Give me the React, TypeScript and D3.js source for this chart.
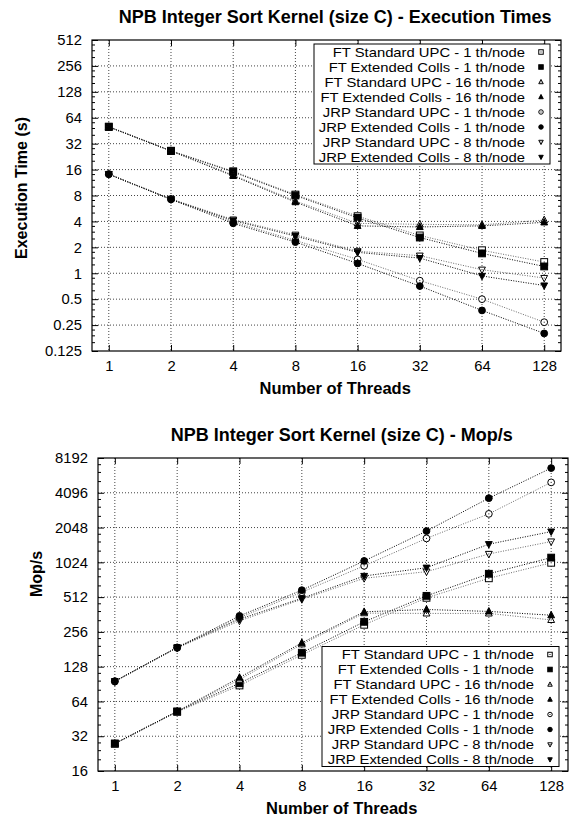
import { useEffect, useRef } from "react";
import * as d3 from "d3";

const threads = [1, 2, 4, 8, 16, 32, 64, 128];

const seriesNames = [
  "FT Standard UPC - 1 th/node",
  "FT Extended Colls - 1 th/node",
  "FT Standard UPC - 16 th/node",
  "FT Extended Colls - 16 th/node",
  "JRP Standard UPC - 1 th/node",
  "JRP Extended Colls - 1 th/node",
  "JRP Standard UPC - 8 th/node",
  "JRP Extended Colls - 8 th/node",
];
const markerKinds = ["sq", "sqF", "tri", "triF", "circ", "circF", "itri", "itriF"];

// execution times (s)
const timeFtStd1 = [50.5, 26.5, 15.3, 8.2, 4.6, 2.75, 1.85, 1.35];
const timeFtExt1 = [50.0, 26.3, 15.0, 8.0, 4.4, 2.6, 1.7, 1.2];
const timeFtStd16 = [50.5, 26.5, 13.8, 6.9, 3.8, 3.7, 3.65, 4.15];
const timeFtExt16 = [50.0, 26.3, 13.5, 6.7, 3.55, 3.45, 3.55, 3.9];
const timeJrpStd1 = [14.2, 7.3, 3.95, 2.4, 1.45, 0.82, 0.5, 0.27];
const timeJrpExt1 = [14.1, 7.2, 3.8, 2.3, 1.3, 0.71, 0.37, 0.2];
const timeJrpStd8 = [14.2, 7.3, 4.2, 2.8, 1.8, 1.6, 1.1, 0.88];
const timeJrpExt8 = [14.1, 7.2, 4.1, 2.7, 1.75, 1.5, 0.93, 0.72];

// Mop/s
const mopFtStd1 = [27.5, 52, 88, 162, 295, 505, 745, 1015];
const mopFtExt1 = [27.7, 52.5, 92, 169, 313, 525, 815, 1125];
const mopFtStd16 = [27.5, 52, 99, 200, 372, 370, 370, 325];
const mopFtExt16 = [27.7, 52.5, 103, 206, 382, 400, 385, 357];
const mopJrpStd1 = [95, 186, 340, 565, 955, 1650, 2690, 5040];
const mopJrpExt1 = [96, 188, 352, 588, 1053, 1910, 3680, 6700];
const mopJrpStd8 = [95, 186, 319, 490, 745, 850, 1210, 1550];
const mopJrpExt8 = [96, 188, 330, 500, 780, 920, 1470, 1890];

const timeTicks = [0.125, 0.25, 0.5, 1, 2, 4, 8, 16, 32, 64, 128, 256, 512];
const mopTicks = [16, 32, 64, 128, 256, 512, 1024, 2048, 4096, 8192];

const FONT = "'Liberation Sans', Arial, Helvetica, sans-serif";

const drawMarker = (g, kind, cx, cy, s) => {
  const filled = kind.endsWith("F");
  const fill = filled ? "#000" : "#fff";
  let el;
  if (kind.startsWith("sq")) {
    el = g.append("rect").attr("x", cx - s / 2).attr("y", cy - s / 2).attr("width", s).attr("height", s);
  } else if (kind.startsWith("circ")) {
    el = g.append("circle").attr("cx", cx).attr("cy", cy).attr("r", s / 2);
  } else {
    const up = kind.startsWith("tri");
    const h = s * 0.95;
    const d = up
      ? `M${cx},${cy - h * 0.6}L${cx + s / 2},${cy + h * 0.4}L${cx - s / 2},${cy + h * 0.4}Z`
      : `M${cx},${cy + h * 0.6}L${cx + s / 2},${cy - h * 0.4}L${cx - s / 2},${cy - h * 0.4}Z`;
    el = g.append("path").attr("d", d);
  }
  el.attr("fill", fill).attr("stroke", "#000").attr("stroke-width", 1);
  if (!filled) {
    g.append("rect").attr("x", cx - 0.5).attr("y", cy - 0.5).attr("width", 1).attr("height", 1).attr("fill", "#000");
  }
};

const drawPanel = (svg, cfg) => {
  const g = svg.append("g");
  const x = d3
    .scaleLog()
    .base(2)
    .domain([Math.pow(2, -0.27), Math.pow(2, 7.27)])
    .range([cfg.left, cfg.right]);
  const y = d3
    .scaleLog()
    .base(2)
    .domain([cfg.yTicks[0], cfg.yTicks[cfg.yTicks.length - 1]])
    .range([cfg.bottom, cfg.top]);

  // grid
  const grid = g.append("g").attr("stroke", "#444").attr("stroke-width", 1).attr("stroke-dasharray", "1,2");
  threads.forEach((t) => {
    grid.append("line").attr("x1", x(t)).attr("x2", x(t)).attr("y1", cfg.top).attr("y2", cfg.bottom);
  });
  cfg.yTicks.slice(1, -1).forEach((v) => {
    grid.append("line").attr("x1", cfg.left).attr("x2", cfg.right).attr("y1", y(v)).attr("y2", y(v));
  });

  // series
  const line = d3
    .line()
    .x((d, i) => x(threads[i]))
    .y((d) => y(d));
  cfg.series.forEach((vals, si) => {
    g.append("path")
      .datum(vals)
      .attr("d", line)
      .attr("fill", "none")
      .attr("stroke", si % 2 === 0 ? "#6a6a6a" : "#000")
      .attr("stroke-width", 1)
      .attr("stroke-dasharray", "1,1.5");
  });
  cfg.series.forEach((vals, si) => {
    vals.forEach((v, i) => drawMarker(g, markerKinds[si], x(threads[i]), y(v), 6.8));
  });

  // axes
  const axB = g
    .append("g")
    .attr("transform", `translate(0,${cfg.bottom})`)
    .call(d3.axisBottom(x).tickValues(threads).tickFormat(d3.format("d")).tickSizeInner(-6).tickSizeOuter(0).tickPadding(9));
  const axT = g
    .append("g")
    .attr("transform", `translate(0,${cfg.top})`)
    .call(d3.axisTop(x).tickValues(threads).tickFormat(() => "").tickSizeInner(-6).tickSizeOuter(0));
  const axL = g
    .append("g")
    .attr("transform", `translate(${cfg.left},0)`)
    .call(d3.axisLeft(y).tickValues(cfg.yTicks).tickFormat((d) => `${d}`).tickSizeInner(-6).tickSizeOuter(0).tickPadding(10));
  const axR = g
    .append("g")
    .attr("transform", `translate(${cfg.right},0)`)
    .call(d3.axisRight(y).tickValues(cfg.yTicks).tickFormat(() => "").tickSizeInner(-6).tickSizeOuter(0));
  [axB, axT, axL, axR].forEach((a) => {
    a.select(".domain").remove();
    a.selectAll("line").attr("stroke", "#000");
    a.selectAll("text").attr("fill", "#000").style("font-family", FONT).style("font-size", "14.8px");
  });

  // minor ticks on log y axis
  const minor = g.append("g").attr("stroke", "#000").attr("stroke-width", 1);
  cfg.yTicks.slice(0, -1).forEach((v) => {
    [1.25, 1.5, 1.75].forEach((m) => {
      const yy = y(v * m);
      minor.append("line").attr("x1", cfg.left).attr("x2", cfg.left + 3).attr("y1", yy).attr("y2", yy);
      minor.append("line").attr("x1", cfg.right).attr("x2", cfg.right - 3).attr("y1", yy).attr("y2", yy);
    });
  });

  g.append("rect")
    .attr("x", cfg.left)
    .attr("y", cfg.top)
    .attr("width", cfg.right - cfg.left)
    .attr("height", cfg.bottom - cfg.top)
    .attr("fill", "none")
    .attr("stroke", "#000")
    .attr("stroke-width", 1.2);

  // legend
  const lg = g.append("g");
  const lw = cfg.legend.width;
  const lx = cfg.legend.x;
  const ly = cfg.legend.y;
  lg.append("rect")
    .attr("x", lx)
    .attr("y", ly)
    .attr("width", lw)
    .attr("height", 120)
    .attr("fill", "#fff")
    .attr("stroke", "#000")
    .attr("stroke-width", 1);
  seriesNames.forEach((name, i) => {
    const base = ly + 12.5 + 15 * i;
    // slightly wide glyphs, kept short enough that rows don't collide
    lg.append("text")
      .attr("transform", `translate(${lx + lw - 25},${base}) scale(1.14,1)`)
      .attr("text-anchor", "end")
      .style("font-family", FONT)
      .style("font-size", "13px")
      .text(name);
    drawMarker(lg, markerKinds[i], lx + lw - 9, base - 4.5, 4.5);
  });

  // titles
  const cx = (cfg.left + cfg.right) / 2 + 8.7;
  svg
    .append("text")
    .attr("x", cx)
    .attr("y", cfg.top - 17)
    .attr("text-anchor", "middle")
    .style("font-family", FONT)
    .style("font-weight", "bold")
    .style("font-size", "18px")
    .text(cfg.title);
  svg
    .append("text")
    .attr("x", cx)
    .attr("y", cfg.bottom + 43)
    .attr("text-anchor", "middle")
    .style("font-family", FONT)
    .style("font-weight", "bold")
    .style("font-size", "16.5px")
    .text("Number of Threads");
  svg
    .append("text")
    .attr("transform", `translate(${cfg.yLabel.x},${cfg.yLabel.y}) rotate(-90)`)
    .attr("text-anchor", "middle")
    .attr("dy", "0.35em")
    .style("font-family", FONT)
    .style("font-weight", "bold")
    .style("font-size", "16px")
    .text(cfg.yLabel.text);
};

const App = () => {
  const ref = useRef(null);

  useEffect(() => {
    const svg = d3.select(ref.current);
    svg.selectAll("*").remove();
    svg.append("rect").attr("width", 575).attr("height", 819).attr("fill", "#fff");

    drawPanel(svg, {
      left: 92,
      right: 561,
      top: 40,
      bottom: 351,
      yTicks: timeTicks,
      series: [timeFtStd1, timeFtExt1, timeFtStd16, timeFtExt16, timeJrpStd1, timeJrpExt1, timeJrpStd8, timeJrpExt8],
      legend: { x: 314, y: 44, width: 236 },
      title: "NPB Integer Sort Kernel (size C) - Execution Times",
      yLabel: { text: "Execution Time (s)", x: 21, y: 188 },
    });

    drawPanel(svg, {
      left: 98,
      right: 568,
      top: 458,
      bottom: 771,
      yTicks: mopTicks,
      series: [mopFtStd1, mopFtExt1, mopFtStd16, mopFtExt16, mopJrpStd1, mopJrpExt1, mopJrpStd8, mopJrpExt8],
      legend: { x: 322, y: 646.5, width: 237 },
      title: "NPB Integer Sort Kernel (size C) - Mop/s",
      yLabel: { text: "Mop/s", x: 36, y: 574 },
    });
  }, []);

  return (
    <svg
      ref={ref}
      width={575}
      height={819}
      style={{ position: "absolute", left: 0, top: 0, display: "block" }}
    />
  );
};

export default App;
